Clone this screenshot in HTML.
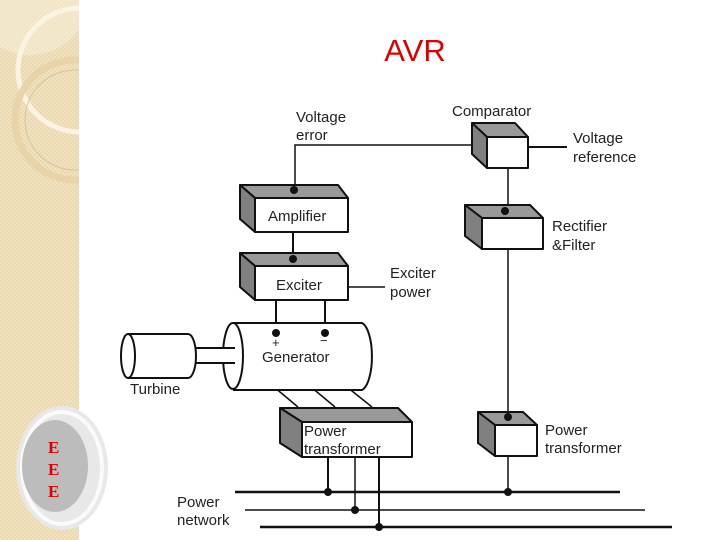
<!DOCTYPE html>
<html><head><meta charset="utf-8"><style>
body{margin:0;width:720px;height:540px;overflow:hidden;background:#fff}
svg{display:block}
text{font-family:"Liberation Sans",sans-serif;font-size:15px;fill:#222}
</style></head><body>
<svg width="720" height="540" viewBox="0 0 720 540">
<defs>
<pattern id="p" width="4" height="4" patternUnits="userSpaceOnUse">
<rect width="4" height="4" fill="#f1e2c0"/><rect width="2" height="2" fill="#ead8b0"/><rect x="2" y="2" width="2" height="2" fill="#ead8b0"/>
</pattern>
<clipPath id="sb"><rect x="0" y="0" width="79" height="540"/></clipPath>
</defs>
<rect x="0" y="0" width="79" height="540" fill="url(#p)"/>
<g clip-path="url(#sb)">
<circle cx="30" cy="-5" r="60" fill="#f6ecd6" opacity="0.6"/>
<circle cx="80" cy="70" r="62" fill="none" stroke="#fbf4e4" stroke-width="5"/>
<circle cx="75" cy="120" r="60" fill="none" stroke="#e8d4a8" stroke-width="7"/>
<circle cx="75" cy="120" r="50" fill="none" stroke="#d8c49a" stroke-width="1"/>
</g>
<ellipse cx="62" cy="468" rx="46" ry="62" fill="#e8e8e8"/>
<ellipse cx="62" cy="468" rx="40" ry="56" fill="none" stroke="#fafafa" stroke-width="4"/>
<ellipse cx="55" cy="466" rx="33" ry="46" fill="#bcbcbc"/>
<text x="48" y="453" style="font-family:'Liberation Serif',serif;font-size:17px;fill:#d00;font-weight:bold">E</text>
<text x="48" y="475" style="font-family:'Liberation Serif',serif;font-size:17px;fill:#d00;font-weight:bold">E</text>
<text x="48" y="497" style="font-family:'Liberation Serif',serif;font-size:17px;fill:#d00;font-weight:bold">E</text>
<text x="415" y="61" text-anchor="middle" style="font-size:31px;fill:#d00">AVR</text>

<g stroke="#111" stroke-width="1.5" fill="none">
<polyline points="295,190 295,145 480,145"/>
<line x1="528" y1="147" x2="567" y2="147" stroke-width="2"/>
<line x1="508" y1="168" x2="508" y2="492"/>
<line x1="293" y1="232" x2="293" y2="260" stroke-width="2"/>
<line x1="348" y1="287" x2="385" y2="287"/>
<line x1="276" y1="300" x2="276" y2="333" stroke-width="2"/>
<line x1="325" y1="300" x2="325" y2="333" stroke-width="2"/>
<line x1="268" y1="382" x2="298" y2="407"/>
<line x1="305" y1="382" x2="335" y2="407"/>
<line x1="342" y1="383" x2="372" y2="407"/>
<line x1="328" y1="457" x2="328" y2="492" stroke-width="2"/>
<line x1="355" y1="457" x2="355" y2="510"/>
<line x1="379" y1="457" x2="379" y2="527" stroke-width="2"/>
<line x1="235" y1="492" x2="620" y2="492" stroke-width="2.5"/>
<line x1="245" y1="510" x2="645" y2="510" stroke-width="1.5"/>
<line x1="260" y1="527" x2="672" y2="527" stroke-width="2.5"/>
</g>

<g stroke="#111" stroke-width="2" stroke-linejoin="round">
<polygon points="240,185 338,185 348,198 255,198" fill="#999"/>
<polygon points="240,185 255,198 255,232 240,219" fill="#808080"/>
<rect x="255" y="198" width="93" height="34" fill="#fff"/>
<polygon points="240,253 338,253 348,266 255,266" fill="#999"/>
<polygon points="240,253 255,266 255,300 240,287" fill="#808080"/>
<rect x="255" y="266" width="93" height="34" fill="#fff"/>
<polygon points="472,123 515,123 528,137 487,137" fill="#999"/>
<polygon points="472,123 487,137 487,168 472,154" fill="#808080"/>
<rect x="487" y="137" width="41" height="31" fill="#fff"/>
<polygon points="465,205 530,205 543,218 482,218" fill="#999"/>
<polygon points="465,205 482,218 482,249 465,236" fill="#808080"/>
<rect x="482" y="218" width="61" height="31" fill="#fff"/>
<polygon points="478,412 523,412 537,425 495,425" fill="#999"/>
<polygon points="478,412 495,425 495,456 478,443" fill="#808080"/>
<rect x="495" y="425" width="42" height="31" fill="#fff"/>
<polygon points="280,408 398,408 412,422 302,422" fill="#999"/>
<polygon points="280,408 302,422 302,457 280,443" fill="#808080"/>
<rect x="302" y="422" width="110" height="35" fill="#fff"/>
<path d="M233,323 L362,323 A12,34 0 0 1 362,390 L233,390" fill="#fff"/>
<ellipse cx="233" cy="356" rx="10" ry="33" fill="#fff"/>
<path d="M235,348 L190,348 L190,363 L235,363" fill="#fff"/>
<path d="M128,334 L188,334 A8,22 0 0 1 188,378 L128,378" fill="#fff"/>
<ellipse cx="128" cy="356" rx="7" ry="22" fill="#fff"/>
</g>

<g fill="#111">
<circle cx="294" cy="190" r="4"/><circle cx="293" cy="259" r="4"/>
<circle cx="505" cy="211" r="4"/><circle cx="508" cy="417" r="4"/>
<circle cx="276" cy="333" r="4"/><circle cx="325" cy="333" r="4"/>
<circle cx="328" cy="492" r="4"/><circle cx="355" cy="510" r="4"/><circle cx="379" cy="527" r="4"/>
<circle cx="508" cy="492" r="4"/>
</g>

<text x="296" y="122">Voltage</text><text x="296" y="140">error</text>
<text x="452" y="116">Comparator</text>
<text x="573" y="143">Voltage</text><text x="573" y="162">reference</text>
<text x="268" y="221">Amplifier</text>
<text x="276" y="290">Exciter</text>
<text x="390" y="278">Exciter</text><text x="390" y="297">power</text>
<text x="552" y="231">Rectifier</text><text x="552" y="250">&amp;Filter</text>
<text x="272" y="347" style="font-size:13px">+</text><text x="320" y="345" style="font-size:13px">−</text>
<text x="262" y="362">Generator</text>
<text x="130" y="394">Turbine</text>
<text x="304" y="436">Power</text><text x="304" y="454">transformer</text>
<text x="545" y="435">Power</text><text x="545" y="453">transformer</text>
<text x="177" y="507">Power</text><text x="177" y="525">network</text>
</svg>
</body></html>
